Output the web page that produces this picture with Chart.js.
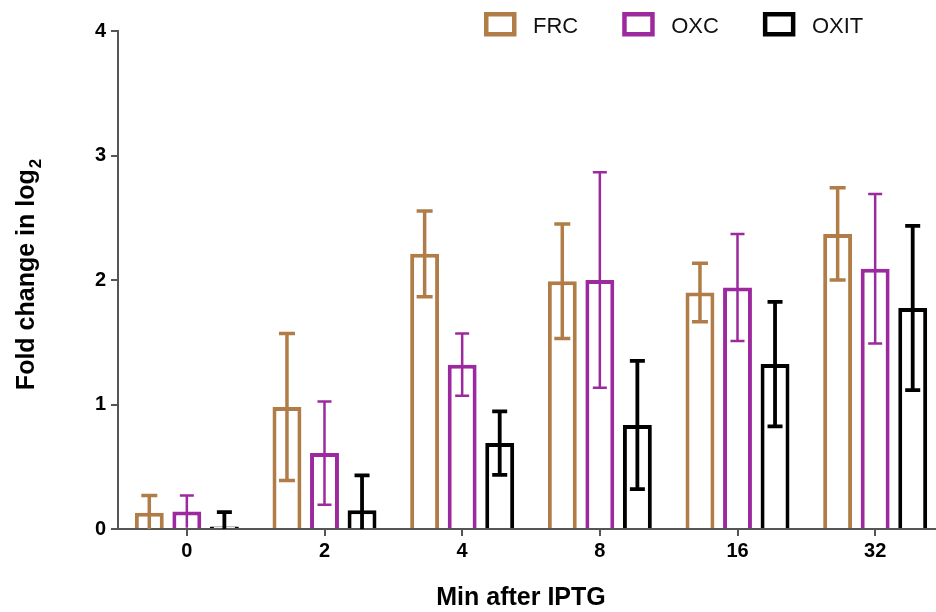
<!DOCTYPE html>
<html>
<head>
<meta charset="utf-8">
<script src="https://cdn.jsdelivr.net/npm/chart.js@4.4.1/dist/chart.umd.min.js"></script>
<style>
  html, body { margin: 0; padding: 0; background: #fff; }
  .wrap { width: 936px; height: 612px; overflow: hidden; }
  canvas { display: block; }
</style>
</head>
<body>
<div class="wrap"><canvas id="chart" width="944" height="612"></canvas></div>
<script>
/* ── Fold change bar chart ── */

const categories = ['0', '2', '4', '8', '16', '32'];
const seriesNames = ['FRC', 'OXC', 'OXIT'];

const frcMean = [0.13, 0.98, 2.21, 1.99, 1.90, 2.37];
const frcErr  = [0.14, 0.59, 0.345, 0.46, 0.235, 0.37];
const oxcMean = [0.14, 0.61, 1.32, 2.00, 1.94, 2.09];
const oxcErr  = [0.13, 0.415, 0.25, 0.865, 0.43, 0.60];
const oxitMean = [0.02, 0.15, 0.69, 0.835, 1.325, 1.775];
const oxitErr  = [0.115, 0.28, 0.255, 0.515, 0.50, 0.66];

const yTicks = [0, 1, 2, 3, 4];

const AXIS = '#555';
const FONT = "'Liberation Sans', Arial, sans-serif";

function makeSet(label, data, err, color, errWidth, capWidth) {
  return {
    label, data, err,
    backgroundColor: '#fff',
    borderColor: color,
    borderWidth: 4,
    errColor: color, errWidth, capWidth,
  };
}

// error bars on top of the bars
const errorBars = {
  id: 'errorBars',
  afterDatasetsDraw(chart) {
    const { ctx, chartArea } = chart;
    const y = chart.scales.y;
    chart.data.datasets.forEach((ds, i) => {
      const meta = chart.getDatasetMeta(i);
      ctx.save();
      ctx.strokeStyle = ds.errColor;
      ctx.lineWidth = ds.errWidth;
      meta.data.forEach((bar, j) => {
        const v = ds.data[j], e = ds.err[j];
        const top = y.getPixelForValue(v + e);
        const bot = Math.min(y.getPixelForValue(v - e), chartArea.bottom);
        const half = ds.capWidth / 2;
        ctx.beginPath();
        ctx.moveTo(bar.x, top);
        ctx.lineTo(bar.x, bot);
        ctx.moveTo(bar.x - half, top);
        ctx.lineTo(bar.x + half, top);
        if (bot < chartArea.bottom - 3) {
          ctx.moveTo(bar.x - half, bot);
          ctx.lineTo(bar.x + half, bot);
        }
        ctx.stroke();
      });
      ctx.restore();
    });
  }
};

// legend + axis titles
const decorations = {
  id: 'decorations',
  afterDraw(chart) {
    const { ctx } = chart;
    ctx.save();

    // legend
    ctx.font = `22px ${FONT}`;
    ctx.textAlign = 'left';
    ctx.textBaseline = 'alphabetic';
    let x = 484;
    chart.data.datasets.forEach(ds => {
      ctx.strokeStyle = ds.borderColor;
      ctx.lineWidth = 4.5;
      ctx.strokeRect(x + 2.25, 14.25, 28, 20);
      ctx.fillStyle = '#111';
      ctx.fillText(ds.label, x + 49, 32.5);
      x += 49 + ctx.measureText(ds.label).width + 44;
    });

    // x title
    ctx.fillStyle = '#000';
    ctx.font = `bold 25px ${FONT}`;
    ctx.textAlign = 'center';
    ctx.fillText('Min after IPTG', 521, 605);

    // y title with subscript
    const main = 'Fold change in log';
    ctx.font = `bold 25px ${FONT}`;
    const w1 = ctx.measureText(main).width;
    ctx.font = `bold 17px ${FONT}`;
    const w2 = ctx.measureText('2').width;
    ctx.translate(34, 275);
    ctx.rotate(-Math.PI / 2);
    ctx.textAlign = 'left';
    ctx.font = `bold 25px ${FONT}`;
    ctx.fillText(main, -(w1 + w2) / 2, 0);
    ctx.font = `bold 17px ${FONT}`;
    ctx.fillText('2', -(w1 + w2) / 2 + w1 + 1, 7);

    ctx.restore();
  }
};

new Chart(document.getElementById('chart'), {
  type: 'bar',
  data: {
    labels: categories,
    datasets: [
      makeSet(seriesNames[0], frcMean, frcErr, '#b07d48', 3.5, 16),
      makeSet(seriesNames[1], oxcMean, oxcErr, '#9c2a9e', 2.5, 14),
      makeSet(seriesNames[2], oxitMean, oxitErr, '#000000', 3.8, 15),
    ]
  },
  options: {
    responsive: false,
    animation: false,
    devicePixelRatio: 1,
    layout: { padding: { top: 31, right: 0, left: 0, bottom: 0 } },
    categoryPercentage: 0.818,
    barPercentage: 0.77,
    plugins: { legend: { display: false }, tooltip: { enabled: false } },
    scales: {
      x: {
        afterFit: s => { s.height = 83; },
        grid: { offset: false, drawOnChartArea: false, drawTicks: true, tickLength: 7, color: AXIS, lineWidth: 2 },
        border: { display: true, color: AXIS, width: 2 },
        ticks: { color: '#000', padding: 3, font: { family: FONT, size: 20, weight: 'bold' } },
      },
      y: {
        min: 0, max: 4,
        afterFit: s => { s.width = 118; },
        afterBuildTicks: s => { s.ticks = yTicks.map(v => ({ value: v })); },
        grid: { drawOnChartArea: false, drawTicks: true, tickLength: 7, color: AXIS, lineWidth: 2 },
        border: { display: true, color: AXIS, width: 2 },
        ticks: { color: '#000', padding: 5, font: { family: FONT, size: 20, weight: 'bold' } },
      }
    }
  },
  plugins: [errorBars, decorations]
});
</script>
</body>
</html>
